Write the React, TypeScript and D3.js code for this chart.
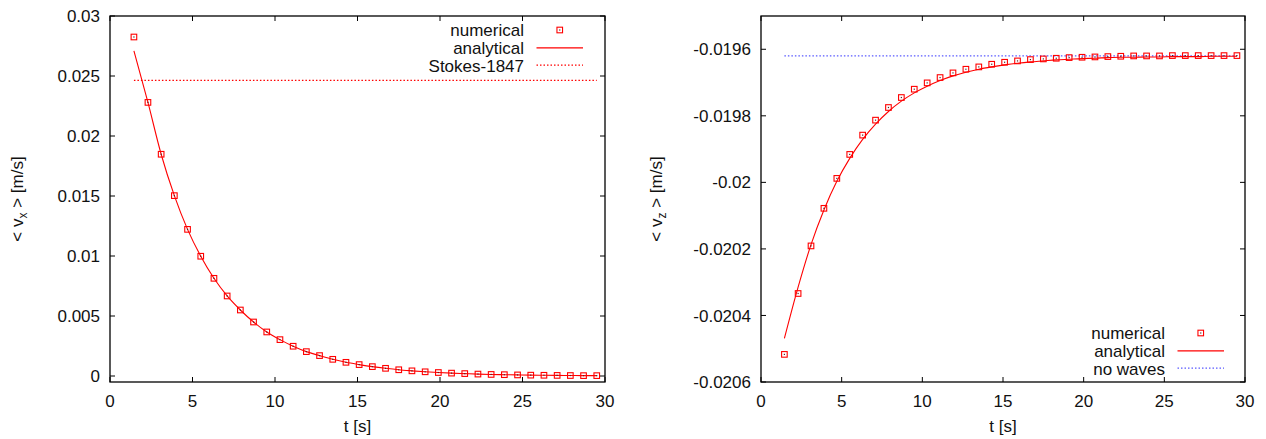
import React from "react";
import * as d3 from "d3";

// ---------- data ----------
const tValues = [1.45, 2.3, 3.1, 3.9, 4.7, 5.5, 6.3, 7.1, 7.9, 8.7, 9.5, 10.3, 11.1, 11.9, 12.7, 13.5, 14.3, 15.1, 15.9, 16.7, 17.5, 18.3, 19.1, 19.9, 20.7, 21.5, 22.3, 23.1, 23.9, 24.7, 25.5, 26.3, 27.1, 27.9, 28.7, 29.5];

const vxNumerical = [0.02825, 0.0228, 0.01848, 0.01503, 0.01222, 0.00998, 0.00814, 0.00667, 0.0055, 0.0045, 0.00367, 0.00303, 0.00248, 0.00203, 0.0017, 0.00139, 0.00114, 0.00095, 0.00078, 0.00064, 0.00052, 0.00043, 0.00035, 0.00029, 0.00024, 0.0002, 0.00016, 0.00013, 0.00011, 0.00009, 0.00007, 0.00006, 0.00005, 0.00004, 0.00003, 0.00003];
const vxAnalytical = [0.0271, 0.0228, 0.01848, 0.01503, 0.01222, 0.00998, 0.00814, 0.00667, 0.0055, 0.0045, 0.00367, 0.00303, 0.00248, 0.00203, 0.0017, 0.00139, 0.00114, 0.00095, 0.00078, 0.00064, 0.00052, 0.00043, 0.00035, 0.00029, 0.00024, 0.0002, 0.00016, 0.00013, 0.00011, 0.00009, 0.00007, 0.00006, 0.00005, 0.00004, 0.00003, 0.00003];
const vxStokes = 0.02464;

const vzNumerical = [-0.020517, -0.020334, -0.020191, -0.020078, -0.019988, -0.019916, -0.019858, -0.019813, -0.019775, -0.019745, -0.01972, -0.019701, -0.019685, -0.019671, -0.01966, -0.019653, -0.019645, -0.019639, -0.019635, -0.019631, -0.019629, -0.019627, -0.019625, -0.019624, -0.019623, -0.019622, -0.019621, -0.01962, -0.01962, -0.01962, -0.019619, -0.019619, -0.019619, -0.019619, -0.019619, -0.019619];
const vzAnalytical = [-0.020469, -0.020315, -0.020187, -0.020083, -0.019997, -0.019928, -0.019871, -0.019825, -0.019787, -0.019756, -0.019731, -0.019711, -0.019694, -0.01968, -0.019669, -0.01966, -0.019653, -0.019647, -0.019642, -0.019638, -0.019635, -0.019632, -0.01963, -0.019628, -0.019627, -0.019625, -0.019624, -0.019624, -0.019623, -0.019623, -0.019622, -0.019622, -0.019622, -0.019621, -0.019621, -0.019621];
const vzNoWaves = -0.01962;

const xTicks = [0, 5, 10, 15, 20, 25, 30];
const leftYTicks = [0, 0.005, 0.01, 0.015, 0.02, 0.025, 0.03];
const leftYTickLabels = ["0", "0.005", "0.01", "0.015", "0.02", "0.025", "0.03"];
const rightYTicks = [-0.0206, -0.0204, -0.0202, -0.02, -0.0198, -0.0196];
const rightYTickLabels = ["-0.0206", "-0.0204", "-0.0202", "-0.02", "-0.0198", "-0.0196"];

const legendLeft = ["numerical", "analytical", "Stokes-1847"];
const legendRight = ["numerical", "analytical", "no waves"];

const FONT = "'Liberation Sans', Arial, Helvetica, sans-serif";
const RED = "#ff0000";
const BLUE = "#5a5aff";

type PanelProps = {
  left: number; right: number; top: number; bottom: number;
  yDomain: [number, number];
  yTicks: number[]; yTickLabels: string[];
  numerical: number[]; analytical: number[];
  refValue: number; refColor: string;
  sub: string; labelX: number;
  legend: string[]; legendTextRight: number; legendBaseline: number;
};

function Marker({ x, y }: { x: number; y: number }) {
  return (
    <g>
      <rect x={x - 2.8} y={y - 2.8} width={5.6} height={5.6} fill="none" stroke={RED} strokeWidth={1.1} />
      <rect x={x - 0.6} y={y - 0.6} width={1.2} height={1.2} fill="#552222" />
    </g>
  );
}

function Panel(p: PanelProps) {
  const x = d3.scaleLinear().domain([0, 30]).range([p.left, p.right]);
  const y = d3.scaleLinear().domain(p.yDomain).range([p.bottom, p.top]);
  const line = d3.line<number>()
    .x((_, i) => x(tValues[i]))
    .y((d) => y(d))
    .curve(d3.curveMonotoneX);
  const tk = 5;
  const t0 = tValues[0];
  const t1 = tValues[tValues.length - 1];
  const lx0 = p.legendTextRight + 12.5;
  const lx1 = p.legendTextRight + 59;
  const lmid = (lx0 + lx1) / 2;
  const lh = 17.8;
  return (
    <g fontFamily={FONT} fontSize={17} fill="#111">
      {/* data */}
      <line x1={x(t0)} x2={x(t1)} y1={y(p.refValue)} y2={y(p.refValue)} stroke={p.refColor} strokeWidth={1.2} strokeDasharray="1.5,2" />
      <path d={line(p.analytical) || ""} fill="none" stroke={RED} strokeWidth={1.1} />
      {p.numerical.map((v, i) => (
        <Marker key={i} x={x(tValues[i])} y={y(v)} />
      ))}
      {/* frame */}
      <rect x={p.left} y={p.top} width={p.right - p.left} height={p.bottom - p.top} fill="none" stroke="#000" strokeWidth={1.3} />
      {xTicks.map((t) => (
        <g key={"x" + t}>
          <line x1={x(t)} x2={x(t)} y1={p.bottom} y2={p.bottom - tk} stroke="#000" />
          <line x1={x(t)} x2={x(t)} y1={p.top} y2={p.top + tk} stroke="#000" />
          <text x={x(t)} y={p.bottom + 25} textAnchor="middle">{t}</text>
        </g>
      ))}
      {p.yTicks.map((v, i) => (
        <g key={"y" + i}>
          <line x1={p.left} x2={p.left + tk} y1={y(v)} y2={y(v)} stroke="#000" />
          <line x1={p.right} x2={p.right - tk} y1={y(v)} y2={y(v)} stroke="#000" />
          <text x={p.left - 10} y={y(v)} dy="0.36em" textAnchor="end">{p.yTickLabels[i]}</text>
        </g>
      ))}
      {/* axis labels */}
      <text x={(p.left + p.right) / 2} y={432} textAnchor="middle">t [s]</text>
      <text transform={`translate(${p.labelX},${(p.top + p.bottom) / 2}) rotate(-90)`} textAnchor="middle" dy="0.35em">
        {"< v"}<tspan fontSize={12} dy="4">{p.sub}</tspan><tspan dy="-4">{" > [m/s]"}</tspan>
      </text>
      {/* legend */}
      {p.legend.map((s, i) => (
        <text key={"l" + i} x={p.legendTextRight} y={p.legendBaseline + i * lh} textAnchor="end">{s}</text>
      ))}
      <Marker x={lmid} y={p.legendBaseline - 6} />
      <line x1={lx0} x2={lx1} y1={p.legendBaseline + lh - 6} y2={p.legendBaseline + lh - 6} stroke={RED} strokeWidth={1.2} />
      <line x1={lx0} x2={lx1} y1={p.legendBaseline + 2 * lh - 6.5} y2={p.legendBaseline + 2 * lh - 6.5} stroke={p.refColor} strokeWidth={1.2} strokeDasharray="1.5,2" />
    </g>
  );
}

export default function App() {
  return (
    <svg width={1266} height={439} style={{ position: "absolute", left: 0, top: 0, background: "#fff" }}>
      <rect x={0} y={0} width={1266} height={439} fill="#fff" />
      <Panel left={110} right={605} top={16} bottom={382}
        yDomain={[-0.0005, 0.03]} yTicks={leftYTicks} yTickLabels={leftYTickLabels}
        numerical={vxNumerical} analytical={vxAnalytical}
        refValue={vxStokes} refColor={RED} sub="x" labelX={17}
        legend={legendLeft} legendTextRight={524} legendBaseline={36} />
      <Panel left={761} right={1245} top={16} bottom={382}
        yDomain={[-0.0206, -0.0195]} yTicks={rightYTicks} yTickLabels={rightYTickLabels}
        numerical={vzNumerical} analytical={vzAnalytical}
        refValue={vzNoWaves} refColor={BLUE} sub="z" labelX={656}
        legend={legendRight} legendTextRight={1165} legendBaseline={339} />
    </svg>
  );
}
